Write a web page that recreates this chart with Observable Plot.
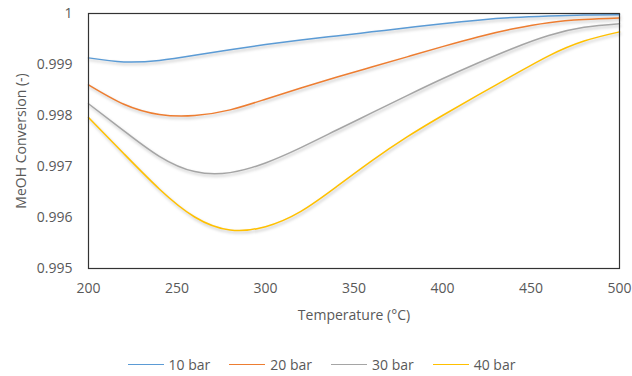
<!DOCTYPE html>
<html>
<head>
<meta charset="utf-8">
<script src="https://cdn.jsdelivr.net/npm/d3@7"></script>
<script src="https://cdn.jsdelivr.net/npm/@observablehq/plot@0.6"></script>
<style>
  body { margin: 0; background: #fff; font-family: "Open Sans", sans-serif; }
  #chart svg { display: block; }
  g[aria-label="line"] path { filter: drop-shadow(1px 2px 1.5px rgba(0,0,0,0.25)); }
  .legend { display: flex; justify-content: center; gap: 19px; padding-top: 16px; padding-left: 11px; }
  .legend .item { display: flex; align-items: center; height: 16px; font-size: 14px; color: #595959; }
  .legend .sw { width: 36px; height: 0; border-top: 1.5px solid; margin-right: 5px; }
</style>
</head>
<body>
<div id="chart"></div>
<script>
// Reactor temperature (°C)
const temperatures = [200, 220, 240, 260, 280, 300, 320, 340, 360, 380, 400, 420, 440, 460, 480, 500];

// Methanol conversion at each pressure
const conv10 = [0.99913, 0.99905, 0.99908, 0.99918, 0.99929, 0.99939, 0.99948, 0.99956, 0.99964, 0.99972, 0.99980, 0.99987, 0.99992, 0.99995, 0.99997, 0.999975];
const conv20 = [0.99860, 0.99822, 0.99802, 0.99800, 0.99811, 0.99832, 0.99854, 0.99875, 0.99895, 0.99915, 0.99935, 0.99954, 0.99970, 0.99982, 0.99988, 0.99991];
const conv30 = [0.99823, 0.99770, 0.99720, 0.99690, 0.99688, 0.99707, 0.99737, 0.99771, 0.99805, 0.99839, 0.99872, 0.99903, 0.99932, 0.99957, 0.99973, 0.99980];
const conv40 = [0.99796, 0.99725, 0.99656, 0.99601, 0.995755, 0.99582, 0.99612, 0.99660, 0.99711, 0.99758, 0.99800, 0.99840, 0.99879, 0.99917, 0.99946, 0.99964];

const seriesNames = ["10 bar", "20 bar", "30 bar", "40 bar"];
const seriesColors = ["#5B9BD5", "#ED7D31", "#A5A5A5", "#FFC000"];
const seriesValues = [conv10, conv20, conv30, conv40];

const xTicks = [200, 250, 300, 350, 400, 450, 500];
const yTicks = [0.995, 0.996, 0.997, 0.998, 0.999, 1];

const rows = seriesNames.flatMap((name, i) =>
  temperatures.map((t, j) => ({series: name, temperature: t, conversion: seriesValues[i][j]}))
);

const textColor = "#595959";

const chart = Plot.plot({
  width: 632,
  height: 340,
  marginLeft: 88,
  marginRight: 13,
  marginTop: 13,
  marginBottom: 72,
  style: {fontFamily: "'Open Sans', sans-serif", fontSize: "14px", color: textColor, background: "#fff"},
  x: {domain: [200, 500]},
  y: {domain: [0.995, 1]},
  color: {domain: seriesNames, range: seriesColors},
  marks: [
    Plot.axisX({ticks: xTicks, tickSize: 0, tickPadding: 15, label: null, fontSize: 14, fill: textColor}),
    Plot.axisY({ticks: yTicks, tickSize: 0, tickPadding: 16, label: null, fontSize: 14, fill: textColor,
      tickFormat: d => d === 1 ? "1" : d.toFixed(3)}),
    Plot.line(rows, {x: "temperature", y: "conversion", z: "series", stroke: "series",
      strokeWidth: 1.5, curve: "natural"}),
    Plot.frame({stroke: "#333", strokeWidth: 1.2}),
    Plot.text(["Temperature (°C)"], {frameAnchor: "bottom", dy: 47, lineAnchor: "middle", textAnchor: "middle",
      fontSize: 14, fill: textColor}),
    Plot.text(["MeOH Conversion (-)"], {frameAnchor: "left", dx: -67, rotate: -90, lineAnchor: "middle",
      textAnchor: "middle", fontSize: 14, fill: textColor})
  ]
});

document.getElementById("chart").append(chart);

// Legend below the plot
const legend = document.createElement("div");
legend.className = "legend";
seriesNames.forEach((name, i) => {
  const item = document.createElement("div");
  item.className = "item";
  const sw = document.createElement("span");
  sw.className = "sw";
  sw.style.borderTopColor = seriesColors[i];
  const label = document.createElement("span");
  label.textContent = name;
  item.append(sw, label);
  legend.append(item);
});
document.getElementById("chart").append(legend);
</script>
</body>
</html>
